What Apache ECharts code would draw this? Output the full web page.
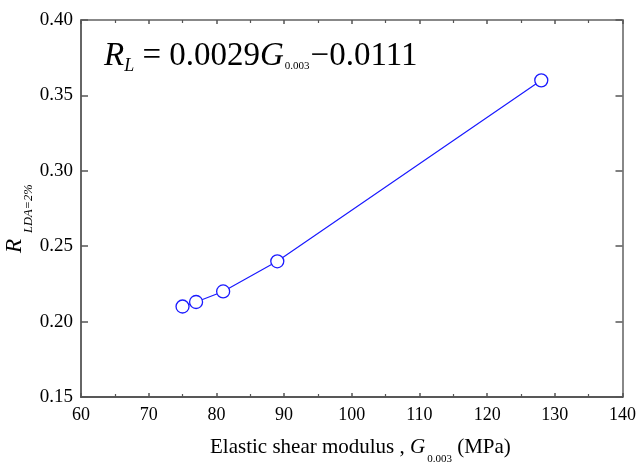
<!DOCTYPE html>
<html><head><meta charset="utf-8">
<script src="https://cdn.jsdelivr.net/npm/echarts@6/dist/echarts.min.js"></script>
<style>html,body{margin:0;padding:0;background:#fff}#c{width:639px;height:463px}</style>
</head><body><div id="c"></div>
<script>
var shearModulus = [75, 77, 81, 89, 128];
var resistance = [0.210, 0.213, 0.220, 0.240, 0.360];
var xTicks = [60, 70, 80, 90, 100, 110, 120, 130, 140];
var yTicks = [0.15, 0.20, 0.25, 0.30, 0.35, 0.40];

var FONT = '"Liberation Serif","Times New Roman",serif';
var chart = echarts.init(document.getElementById('c'));
var pts = shearModulus.map(function (x, i) { return [x, resistance[i]]; });

function mkX(show, pos) {
  return {
    type: 'value', min: xTicks[0], max: xTicks[xTicks.length - 1], interval: 10,
    position: pos, gridIndex: 0,
    axisLine: { show: true, onZero: false, lineStyle: { color: show ? '#222' : '#888', width: show ? 1.5 : 2 } },
    axisTick: { show: true, inside: true, length: 4, lineStyle: { color: '#555', width: 1.5 } },
    minorTick: { show: true, splitNumber: 2, length: 3, lineStyle: { color: '#555', width: 1.2 } },
    axisLabel: { show: show, margin: 9, color: '#000', fontFamily: FONT, fontSize: 18 },
    splitLine: { show: false }
  };
}
function mkY(show, pos) {
  return {
    type: 'value', min: yTicks[0], max: yTicks[yTicks.length - 1], interval: 0.05,
    position: pos, gridIndex: 0,
    axisLine: { show: true, onZero: false, lineStyle: { color: show ? '#666' : '#888', width: 2 } },
    axisTick: { show: true, inside: true, length: 7, lineStyle: { color: '#555', width: 1.5 } },
    minorTick: { show: false },
    axisLabel: { show: show, margin: 8, color: '#000', fontFamily: FONT, fontSize: 19,
      formatter: function (v) { return v.toFixed(2); } },
    splitLine: { show: false }
  };
}

chart.setOption({
  animation: false,
  backgroundColor: '#fff',
  grid: { left: 81, right: 13, top: 20, bottom: 66, containLabel: false },
  xAxis: [mkX(true, 'bottom'), mkX(false, 'top')],
  yAxis: [mkY(true, 'left'), mkY(false, 'right')],
  series: [{
    type: 'line', data: pts, xAxisIndex: 0, yAxisIndex: 0,
    symbol: 'circle', symbolSize: 13,
    lineStyle: { color: '#1a1aff', width: 1.2 },
    itemStyle: { color: '#fff', borderColor: '#1a1aff', borderWidth: 1.3 }
  }],
  graphic: [
    {
      type: 'text', left: 104, top: 40,
      style: {
        text: '{r|R}{l|L}{n| = 0.0029}{g|G}{s|0.003}{n|−0.0111}',
        fill: '#000',
        rich: {
          r: { fontFamily: FONT, fontSize: 33, fontStyle: 'italic', lineHeight: 38, verticalAlign: 'top' },
          l: { fontFamily: FONT, fontSize: 18, fontStyle: 'italic', lineHeight: 20, verticalAlign: 'top', padding: [17, 0, 0, 0] },
          n: { fontFamily: FONT, fontSize: 33, lineHeight: 38, verticalAlign: 'top' },
          g: { fontFamily: FONT, fontSize: 33, fontStyle: 'italic', lineHeight: 38, verticalAlign: 'top' },
          s: { fontFamily: FONT, fontSize: 11, lineHeight: 12, verticalAlign: 'top', padding: [21, 1, 0, 1] }
        }
      }
    },
    {
      type: 'text', left: 210, top: 437,
      style: {
        text: '{n|Elastic shear modulus , }{g|G}{s|0.003}{n| (MPa)}',
        fill: '#000',
        rich: {
          n: { fontFamily: FONT, fontSize: 21, lineHeight: 22, verticalAlign: 'top' },
          g: { fontFamily: FONT, fontSize: 21, fontStyle: 'italic', lineHeight: 22, verticalAlign: 'top' },
          s: { fontFamily: FONT, fontSize: 11, lineHeight: 12, verticalAlign: 'top', padding: [17, 0, 0, 2] }
        }
      }
    },
    {
      type: 'text', x: 15, y: 253, rotation: Math.PI / 2,
      style: { text: 'R', fill: '#000', fontFamily: FONT, fontSize: 23, fontStyle: 'italic',
        align: 'left', verticalAlign: 'middle' }
    },
    {
      type: 'text', x: 29, y: 233, rotation: Math.PI / 2,
      style: { text: 'LDA=2%', fill: '#000', fontFamily: FONT, fontSize: 12.5, fontStyle: 'italic',
        align: 'left', verticalAlign: 'middle' }
    }
  ]
});
</script></body></html>
